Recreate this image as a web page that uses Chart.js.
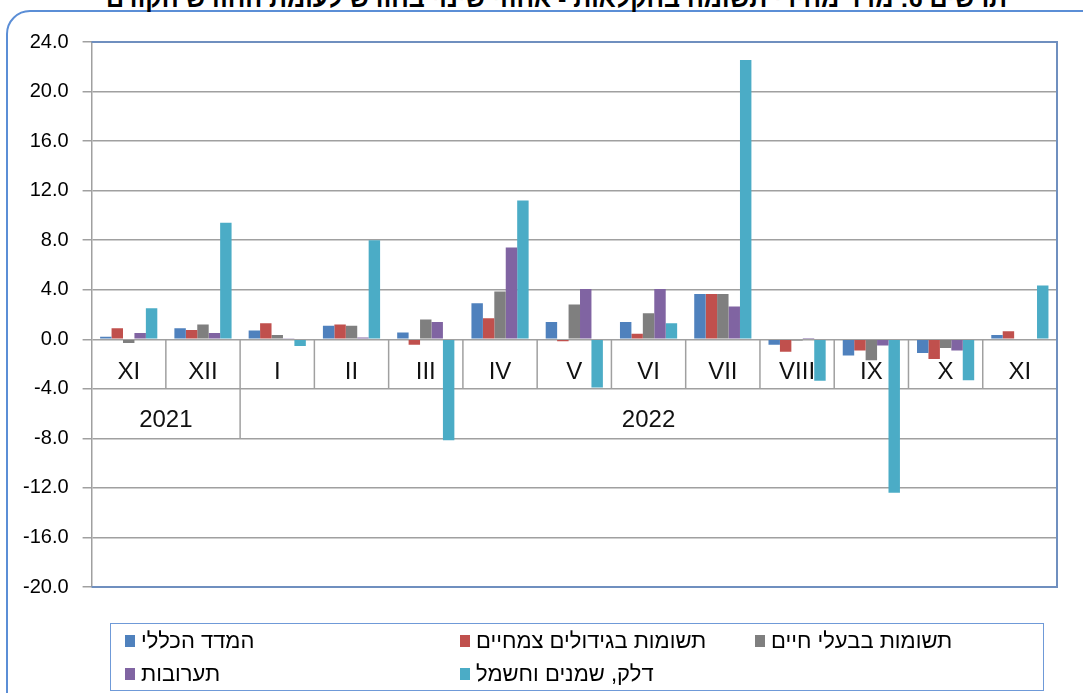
<!DOCTYPE html>
<html>
<head>
<meta charset="utf-8">
<script src="https://cdn.jsdelivr.net/npm/chart.js@4.4.1/dist/chart.umd.min.js"></script>
<style>
  body { margin: 0; width: 1083px; height: 693px; overflow: hidden; background: #fff; position: relative; font-family: "Liberation Sans", Arial, "DejaVu Sans", sans-serif; }
  #frame { position: absolute; left: 6px; top: 10px; width: 1100px; height: 730px; border: 2px solid #5b8ed6; border-radius: 24px; }
  #title { position: absolute; left: 0; width: 1083px; top: -14px; height: 24px; line-height: 24px; text-align: center; font-weight: bold; font-size: 25px; direction: rtl; white-space: nowrap; padding-left: 30px; box-sizing: border-box; }
  #myChart { position: absolute; left: 0; top: 0; }
  #legend { position: absolute; left: 110px; top: 623px; width: 932px; height: 66px; border: 1.5px solid #6f9ad8; }
  .item { position: absolute; display: flex; align-items: center; font-size: 22px; line-height: 24px; white-space: nowrap; }
  .box { width: 10px; height: 12px; margin-right: 6px; }
</style>
</head>
<body>
<div id="frame"></div>
<div id="title">תרשים 6: מדד מחירי תשומה בחקלאות - אחוזי שינוי בחודש לעומת החודש הקודם</div>
<canvas id="myChart" width="1083" height="693"></canvas>
<div id="legend"></div>
<script>
// categories
const months = ['XI', 'XII', 'I', 'II', 'III', 'IV', 'V', 'VI', 'VII', 'VIII', 'IX', 'X', 'XI'];
const yearLabels = ['2021', '2022'];
const yearSpans = [2, 11];   // how many months belong to each year

// series (% change)
const seriesNames = ['המדד הכללי', 'תשומות בגידולים צמחיים', 'תשומות בבעלי חיים', 'תערובות', 'דלק, שמנים וחשמל'];
const generalIdx = [0.2, 0.9, 0.7, 1.1, 0.55, 2.9, 1.4, 1.4, 3.65, -0.45, -1.3, -1.1, 0.35];
const cropInputs = [0.9, 0.75, 1.3, 1.2, -0.45, 1.7, -0.15, 0.45, 3.65, -1.0, -0.9, -1.6, 0.65];
const livestockInputs = [-0.3, 1.2, 0.35, 1.1, 1.6, 3.85, 2.8, 2.1, 3.65, -0.1, -1.7, -0.7, 0];
const feed = [0.5, 0.5, 0.05, 0.15, 1.4, 7.4, 4.05, 4.05, 2.65, 0.1, -0.5, -0.9, 0];
const fuelOilElec = [2.5, 9.4, -0.55, 8.0, -8.15, 11.2, -3.9, 1.3, 22.55, -3.35, -12.4, -3.3, 4.35];

// y ticks
const yMin = -20, yMax = 24, yStep = 4;

const colors = ['#4f81bd', '#c0504d', '#7f7f7f', '#8064a2', '#4bacc6'];
const allSeries = [generalIdx, cropInputs, livestockInputs, feed, fuelOilElec];

// excel style category table: labels sitting under the zero line
const excelAxis = {
  id: 'excelAxis',
  beforeDatasetsDraw(chart) {
    const { ctx, scales: { x, y } } = chart;
    const y0 = y.getPixelForValue(0);
    const y1 = y.getPixelForValue(-4);
    const y2 = y.getPixelForValue(-8);
    const half = (x.getPixelForValue(1) - x.getPixelForValue(0)) / 2;
    ctx.save();
    ctx.strokeStyle = '#a0a0a0';
    ctx.lineWidth = 1.5;
    // month separators
    for (let i = 1; i < months.length; i++) {
      const px = x.getPixelForValue(i) - half;
      ctx.beginPath(); ctx.moveTo(px, y0); ctx.lineTo(px, y1); ctx.stroke();
    }
    // year separators
    let start = 0;
    for (let k = 0; k < yearSpans.length - 1; k++) {
      start += yearSpans[k];
      const px = x.getPixelForValue(start) - half;
      ctx.beginPath(); ctx.moveTo(px, y1); ctx.lineTo(px, y2); ctx.stroke();
    }
    ctx.fillStyle = '#111';
    ctx.textAlign = 'center';
    ctx.textBaseline = 'middle';
    ctx.font = '24px "Liberation Sans", Arial, sans-serif';
    months.forEach((m, i) => {
      ctx.fillText(m, x.getPixelForValue(i), (y0 + y1) / 2 + 8);
    });
    start = 0;
    yearLabels.forEach((yl, k) => {
      const a = x.getPixelForValue(start) - half;
      const b = x.getPixelForValue(start + yearSpans[k] - 1) + half;
      ctx.fillText(yl, (a + b) / 2, (y1 + y2) / 2 + 7);
      start += yearSpans[k];
    });
    ctx.restore();
  },
  afterDraw(chart) {
    const { ctx, chartArea: a } = chart;
    ctx.save();
    ctx.strokeStyle = '#6f8fbf';
    ctx.lineWidth = 2;
    ctx.beginPath();
    ctx.moveTo(a.left, a.top); ctx.lineTo(a.right, a.top);
    ctx.lineTo(a.right, a.bottom); ctx.lineTo(a.left, a.bottom);
    ctx.stroke();
    ctx.restore();
  }
};

const ctx = document.getElementById('myChart');
const chart = new Chart(ctx, {
  type: 'bar',
  data: {
    labels: months,
    datasets: allSeries.map((d, i) => ({
      label: seriesNames[i],
      data: d,
      backgroundColor: colors[i],
      borderWidth: 0,
      categoryPercentage: 0.77,
      barPercentage: 1.0
    }))
  },
  options: {
    responsive: false,
    animation: false,
    layout: { padding: { top: 42, right: 26, bottom: 106, left: 9 } },
    plugins: { legend: { display: false }, tooltip: { enabled: false } },
    scales: {
      x: { display: false },
      y: {
        min: yMin,
        max: yMax,
        ticks: {
          stepSize: yStep,
          color: '#000',
          padding: 14,
          font: { family: '"Liberation Sans", Arial, sans-serif', size: 20 },
          callback: v => v.toFixed(1)
        },
        grid: { color: '#a0a0a0', lineWidth: 1.5, tickLength: 9 },
        border: { color: '#a0a0a0', width: 1.5 }
      }
    }
  },
  plugins: [excelAxis]
});

// legend, built from the datasets
const legendPos = [[14, 5], [349, 5], [644, 5], [14, 38], [349, 38]];
const legendEl = document.getElementById('legend');
chart.data.datasets.forEach((ds, i) => {
  const it = document.createElement('div');
  it.className = 'item';
  it.style.left = legendPos[i][0] + 'px';
  it.style.top = legendPos[i][1] + 'px';
  it.innerHTML = `<span class="box" style="background:${ds.backgroundColor}"></span><span dir="rtl">${ds.label}</span>`;
  legendEl.appendChild(it);
});
</script>
</body>
</html>
